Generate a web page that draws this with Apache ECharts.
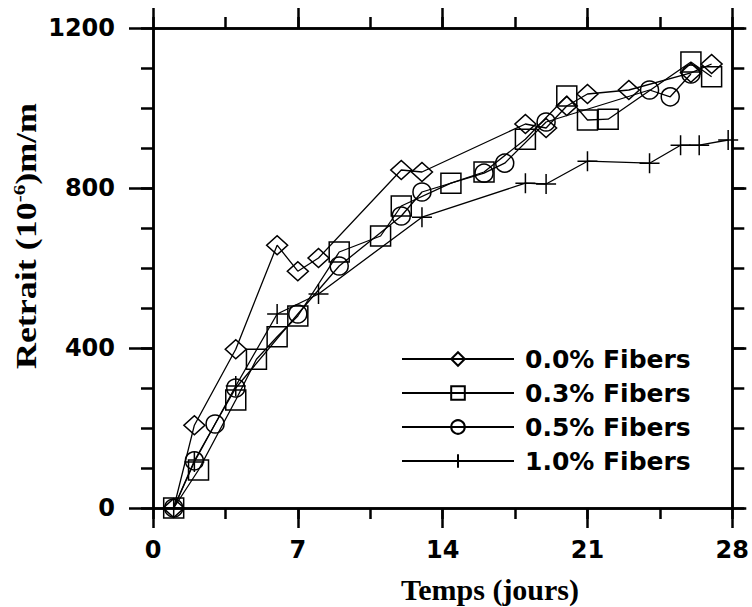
<!DOCTYPE html>
<html><head><meta charset="utf-8">
<script src="https://cdn.jsdelivr.net/npm/echarts@6/dist/echarts.min.js"></script>
<style>html,body{margin:0;padding:0;background:#fff}#c{width:752px;height:607px}</style>
</head><body><div id="c"></div>
<script>
// Data (days, shrinkage 10^-6 m/m)
const names = ['0.0% Fibers', '0.3% Fibers', '0.5% Fibers', '1.0% Fibers'];
const days00 = [1, 2, 4, 6, 7, 8, 12, 13, 18, 19, 20, 21, 23, 26, 27];
const vals00 = [0, 207, 397, 657, 592, 625, 845, 840, 960, 950, 1005, 1035, 1045, 1088, 1110];
const days03 = [1, 2.2, 4, 5, 6, 7, 9, 11, 12, 14.4, 16, 18, 20, 21, 22, 26, 27];
const vals03 = [0, 95, 270, 372, 428, 480, 640, 680, 755, 812, 840, 922, 1030, 970, 972, 1115, 1078];
const days05 = [1, 2, 3, 4, 7, 9, 12, 13, 16, 17, 19, 24, 25, 26];
const vals05 = [0, 118, 210, 300, 485, 605, 730, 790, 837, 862, 965, 1045, 1028, 1085];
const days10 = [1, 2, 4, 6, 8, 13, 18, 19, 21, 24, 25.5, 26.4, 27.8];
const vals10 = [0, 115, 305, 485, 535, 727, 812, 810, 867, 862, 907, 907, 920];
const xTicks = [0, 7, 14, 21, 28];
const yTicks = [0, 400, 800, 1200];

const zip = (a, b) => a.map((v, i) => [v, b[i]]);
const chart = echarts.init(document.getElementById('c'), null, {renderer: 'svg'});

const labelStyle = {fontFamily: 'DejaVu Sans', fontWeight: 'bold', fontSize: 24, color: '#000'};
const xMin = xTicks[0], xMax = xTicks[xTicks.length - 1];
const yMin = yTicks[0], yMax = yTicks[yTicks.length - 1];

function mkAxis(pos, min, max, interval, tickLen, label) {
  return {
    type: 'value', position: pos, min: min, max: max, interval: interval,
    axisLine: {show: true, onZero: false, lineStyle: {color: '#000', width: 2.5}},
    axisTick: {show: true, inside: false, length: tickLen, lineStyle: {color: '#000', width: 2.5}},
    splitLine: {show: false},
    axisLabel: label ? label : {show: false}
  };
}

function mkSeries(name, d, v, symbol, size) {
  return {
    name: name, type: 'line', data: zip(d, v), symbol: symbol, symbolSize: size,
    xAxisIndex: 0, yAxisIndex: 0,
    clip: false, animation: false,
    lineStyle: {color: '#000', width: 1.3},
    itemStyle: {color: 'rgba(255,255,255,0)', borderColor: '#000', borderWidth: 1.5}
  };
}

chart.setOption({
  animation: false,
  backgroundColor: '#fff',
  grid: {left: 153, right: 19, top: 28, bottom: 99},
  xAxis: [
    mkAxis('bottom', xMin, xMax, 7, 20,
      Object.assign({margin: 30, formatter: v => String(v)}, labelStyle)),
    mkAxis('bottom', xMin, xMax, 3.5, 11, null),
    mkAxis('top', xMin, xMax, 7, 20, null),
    mkAxis('top', xMin, xMax, 3.5, 11, null)
  ],
  yAxis: [
    mkAxis('left', yMin, yMax, 400, 24,
      Object.assign({margin: 38, formatter: v => String(v)}, labelStyle)),
    mkAxis('left', yMin, yMax, 100, 12, null),
    mkAxis('right', yMin, yMax, 400, 14, null),
    mkAxis('right', yMin, yMax, 100, 12, null)
  ],
  legend: {
    orient: 'vertical', left: 396, top: 339,
    itemWidth: 112, itemHeight: 17, itemGap: 4,
    textStyle: {fontFamily: 'DejaVu Sans', fontWeight: 'bold', fontSize: 25, color: '#000', lineHeight: 30, padding: [0, 0, 0, 6]},
    data: names
  },
  graphic: [
    {
      type: 'text', x: 26, y: 236, rotation: Math.PI / 2, scaleX: 1.24,
      style: {
        text: '{a|Retrait (10}{s|-6}{a|)m/m}',
        align: 'center', verticalAlign: 'middle',
        rich: {
          a: {fontFamily: 'Liberation Serif', fontWeight: 'bold', fontSize: 29, fill: '#000', lineHeight: 32},
          s: {fontFamily: 'Liberation Serif', fontWeight: 'bold', fontSize: 17, fill: '#000', lineHeight: 32, padding: [0, 0, 14, 0]}
        }
      }
    },
    {
      type: 'text', x: 490, y: 589,
      style: {
        text: 'Temps (jours)', align: 'center', verticalAlign: 'middle',
        fontFamily: 'Liberation Serif', fontWeight: 'bold', fontSize: 30, fill: '#000'
      }
    }
  ],
  series: [
    mkSeries(names[0], days00, vals00, 'diamond', [21, 19]),
    mkSeries(names[1], days03, vals03, 'rect', 20),
    mkSeries(names[2], days05, vals05, 'circle', 18),
    mkSeries(names[3], days10, vals10, 'path://M10,0 L10,20 M0,10 L20,10', 20)
  ]
});
</script></body></html>
